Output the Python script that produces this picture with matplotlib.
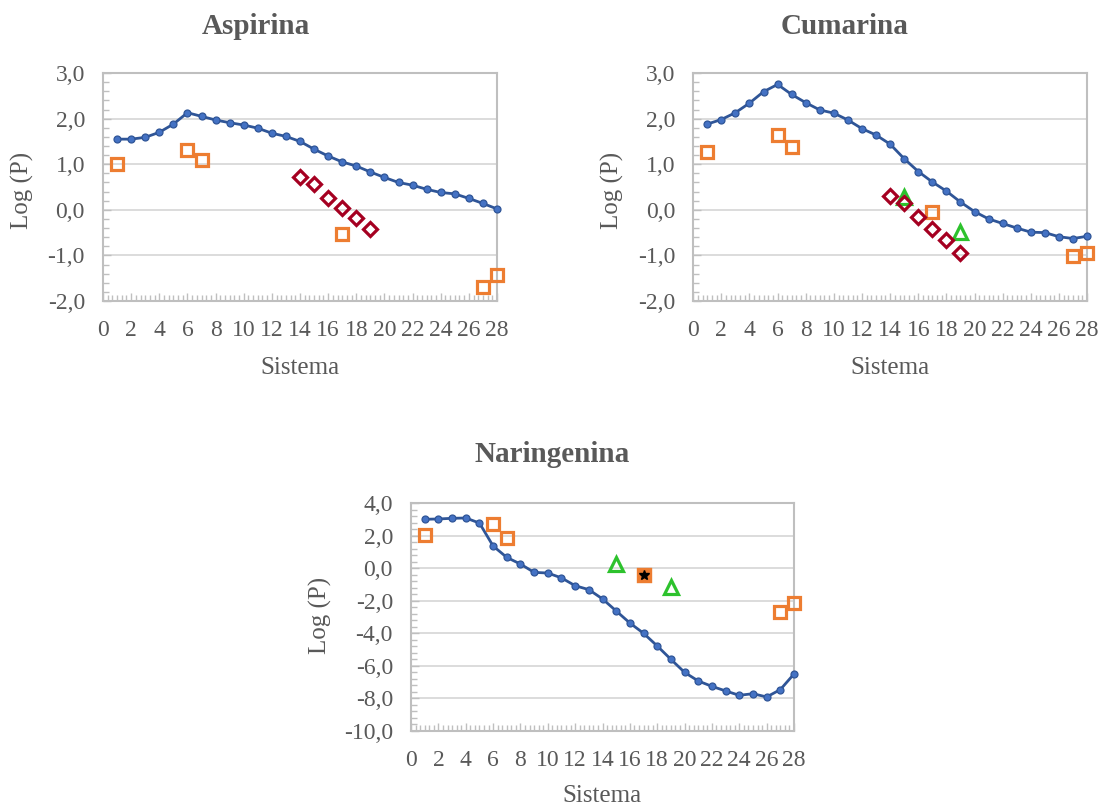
import numpy as np
import matplotlib.pyplot as plt
from matplotlib.ticker import MultipleLocator, FuncFormatter

plt.rcParams['font.family'] = ['Liberation Serif', 'DejaVu Serif']

sistema = np.arange(1, 29)

# Aspirina
asp_line = [1.55, 1.55, 1.59, 1.70, 1.88, 2.13, 2.05, 1.97, 1.91, 1.86,
            1.79, 1.68, 1.61, 1.50, 1.33, 1.18, 1.05, 0.96, 0.83, 0.71,
            0.60, 0.54, 0.45, 0.38, 0.35, 0.25, 0.14, 0.02]
asp_sq_x = [1, 6, 7, 17, 27, 28]
asp_sq_y = [1.01, 1.32, 1.09, -0.54, -1.69, -1.42]
asp_dm_x = [14, 15, 16, 17, 18, 19]
asp_dm_y = [0.71, 0.57, 0.27, 0.04, -0.19, -0.42]

# Cumarina
cum_line = [1.88, 1.98, 2.13, 2.34, 2.59, 2.75, 2.53, 2.35, 2.19, 2.12,
            1.97, 1.78, 1.64, 1.44, 1.12, 0.84, 0.61, 0.41, 0.17, -0.04,
            -0.20, -0.30, -0.40, -0.49, -0.50, -0.59, -0.63, -0.58]
cum_sq_x = [1, 6, 7, 17, 27, 28]
cum_sq_y = [1.27, 1.65, 1.37, -0.04, -1.02, -0.94]
cum_dm_x = [14, 15, 16, 17, 18, 19]
cum_dm_y = [0.30, 0.16, -0.15, -0.41, -0.66, -0.94]
cum_tr_x = [15, 19]
cum_tr_y = [0.29, -0.48]

# Naringenina
nar_line = [3.00, 3.02, 3.06, 3.08, 2.77, 1.36, 0.66, 0.25, -0.26, -0.30,
            -0.60, -1.08, -1.32, -1.89, -2.63, -3.37, -4.00, -4.78, -5.60, -6.40,
            -6.93, -7.26, -7.54, -7.81, -7.71, -7.91, -7.46, -6.50]
nar_sq_x = [1, 6, 7, 17, 27, 28]
nar_sq_y = [2.06, 2.69, 1.85, -0.42, -2.67, -2.14]
nar_tr_x = [15, 19]
nar_tr_y = [0.28, -1.16]
nar_st_x = [17]
nar_st_y = [-0.42]

TXT = '#595959'
BLUE = '#2F5597'
ORANGE = '#ED7D31'
RED = '#A50021'
GREEN = '#2DC22D'


def style_axes(ax, ymin, ymax, ystep):
    ax.set_xlim(0, 28)
    ax.set_ylim(ymin, ymax)
    ax.xaxis.set_major_locator(MultipleLocator(2))
    ax.xaxis.set_minor_locator(MultipleLocator(1 / 3))
    ax.yaxis.set_major_locator(MultipleLocator(ystep))
    ax.yaxis.set_minor_locator(MultipleLocator(ystep / 5))
    ax.yaxis.set_major_formatter(FuncFormatter(lambda v, p: f'{v:.1f}'.replace('.', ',')))
    ax.grid(axis='y', which='major', color='#D9D9D9', lw=1.3)
    ax.set_axisbelow(True)
    for s in ax.spines.values():
        s.set_color('#BFBFBF')
        s.set_linewidth(1.5)
    ax.tick_params(which='both', direction='in', color='#BFBFBF', labelcolor=TXT,
                   labelsize=17, width=1)
    ax.tick_params(which='major', length=6)
    ax.tick_params(which='minor', length=4)
    ax.tick_params(axis='y', pad=13)
    ax.tick_params(axis='x', pad=14)


def draw_line(ax, y):
    ax.plot(sistema, y, color=BLUE, lw=2, marker='o', ms=5,
            mfc='#4472C4', mec=BLUE, mew=0.9, clip_on=False, zorder=3)


def draw_open(ax, x, y, marker, color, ms):
    # hollow markers, no fill, as in the spreadsheet chart
    ax.plot(x, y, ls='none', marker=marker, ms=ms, mfc='none', mec=color,
            mew=2.3, clip_on=False, zorder=4)


fig = plt.figure(figsize=(11.02, 8.07), dpi=100)

ax1 = fig.add_axes([0.0935, 0.627, 0.3575, 0.2825])
style_axes(ax1, -2, 3, 1)
draw_line(ax1, asp_line)
draw_open(ax1, asp_sq_x, asp_sq_y, 's', ORANGE, 8.5)
draw_open(ax1, asp_dm_x, asp_dm_y, 'D', RED, 7.5)

ax2 = fig.add_axes([0.629, 0.627, 0.3575, 0.2825])
style_axes(ax2, -2, 3, 1)
draw_line(ax2, cum_line)
draw_open(ax2, cum_sq_x, cum_sq_y, 's', ORANGE, 8.5)
draw_open(ax2, cum_tr_x, cum_tr_y, '^', GREEN, 10)
draw_open(ax2, cum_dm_x, cum_dm_y, 'D', RED, 7.5)

ax3 = fig.add_axes([0.373, 0.0942, 0.3475, 0.2825])
style_axes(ax3, -10, 4, 2)
draw_line(ax3, nar_line)
draw_open(ax3, nar_sq_x, nar_sq_y, 's', ORANGE, 8.5)
ax3.plot(nar_st_x, nar_st_y, ls='none', marker='s', ms=8.5, mfc=ORANGE,
         mec=ORANGE, mew=2.3, zorder=5)
ax3.plot(nar_st_x, nar_st_y, ls='none', marker='*', ms=7, mfc='black',
         mec='black', zorder=6)
draw_open(ax3, nar_tr_x, nar_tr_y, '^', GREEN, 10)

fig.text(256 / 1102, 1 - 27 / 807, 'Aspirina', ha='center', va='center',
         fontsize=21, fontweight='bold', color=TXT)
fig.text(845 / 1102, 1 - 27 / 807, 'Cumarina', ha='center', va='center',
         fontsize=21, fontweight='bold', color=TXT)
fig.text(552 / 1102, 1 - 455 / 807, 'Naringenina', ha='center', va='center',
         fontsize=21, fontweight='bold', color=TXT)

for x, y in [(300, 368), (890, 368), (602, 796)]:
    fig.text(x / 1102, 1 - y / 807, 'Sistema', ha='center', va='center',
             fontsize=18, color=TXT)
for x, y in [(22, 190), (612, 190), (320, 615)]:
    fig.text(x / 1102, 1 - y / 807, 'Log (P)', ha='center', va='center',
             fontsize=18, color=TXT, rotation=90)

plt.savefig('out.png', dpi=100)
